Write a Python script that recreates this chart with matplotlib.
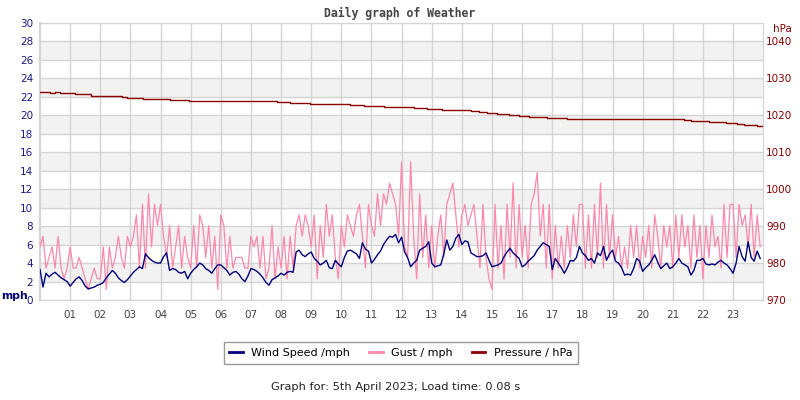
import numpy as np
import matplotlib
matplotlib.use("Agg")
import matplotlib.pyplot as plt

# Daily weather graph: wind speed, gust (mph) and pressure (hPa)

# samples every 6 minutes, 10 per hour, hour by hour
wind_mph = [
    3.3, 1.4, 2.9, 2.5, 2.8, 3.0, 2.7, 2.4, 2.2, 2.0,  # 00
    1.5, 1.9, 2.3, 2.5, 2.1, 1.5, 1.2, 1.3, 1.4, 1.6,  # 01
    1.7, 1.9, 2.4, 2.8, 3.2, 2.9, 2.4, 2.1, 1.9, 2.2,  # 02
    2.6, 3.0, 3.3, 3.6, 3.4, 5.0, 4.6, 4.3, 4.1, 4.0,  # 03
    4.0, 4.7, 5.1, 3.2, 3.4, 3.3, 3.0, 2.9, 3.1, 2.3,  # 04
    2.9, 3.3, 3.6, 4.0, 3.8, 3.4, 3.2, 2.9, 3.4, 3.8,  # 05
    3.8, 3.5, 3.2, 2.7, 3.0, 3.1, 2.8, 2.3, 2.0, 2.6,  # 06
    3.4, 3.3, 3.1, 2.8, 2.4, 1.9, 1.6, 2.2, 2.4, 2.6,  # 07
    2.9, 2.7, 3.0, 3.1, 3.0, 5.2, 5.4, 4.9, 4.7, 5.0,  # 08
    5.2, 4.5, 4.2, 3.8, 4.0, 4.3, 3.5, 3.4, 4.3, 3.9,  # 09
    3.6, 4.6, 5.3, 5.4, 5.2, 5.0, 4.5, 6.2, 5.5, 5.3,  # 10
    4.0, 4.4, 4.9, 5.3, 6.0, 6.5, 6.9, 6.8, 7.1, 6.2,  # 11
    6.8, 5.2, 4.6, 3.6, 4.0, 4.3, 5.4, 5.6, 5.8, 6.3,  # 12
    4.0, 3.6, 3.7, 3.8, 5.0, 6.5, 5.4, 5.8, 6.7, 7.1,  # 13
    6.0, 6.4, 6.3, 5.1, 4.9, 4.7, 4.7, 4.8, 5.1, 4.3,  # 14
    3.6, 3.7, 3.8, 4.0, 4.7, 5.2, 5.6, 5.1, 4.8, 4.5,  # 15
    3.6, 3.8, 4.2, 4.5, 4.8, 5.4, 5.8, 6.2, 6.0, 5.8,  # 16
    3.3, 4.5, 4.0, 3.5, 2.9, 3.5, 4.3, 4.2, 4.6, 5.8,  # 17
    5.1, 4.8, 4.3, 4.5, 4.0, 5.1, 4.8, 5.8, 4.3, 5.0,  # 18
    5.4, 4.2, 4.0, 3.5, 2.7, 2.8, 2.7, 3.4, 4.5, 4.2,  # 19
    3.1, 3.5, 3.8, 4.3, 4.9, 4.1, 3.4, 3.7, 4.0, 3.4,  # 20
    3.6, 4.0, 4.5, 4.0, 3.8, 3.6, 2.7, 3.2, 4.3, 4.3,  # 21
    4.5, 3.9, 3.8, 3.9, 3.8, 4.1, 4.3, 4.0, 3.8, 3.4,  # 22
    2.9, 4.0, 5.8, 4.7, 4.2, 6.3, 4.6, 4.2, 5.3, 4.5,  # 23
]

# gust is logged in whole knots
gust_kt = [
    5, 6, 3, 4, 5, 3, 6, 3, 2, 3,  # 00
    5, 3, 3, 4, 3, 2, 1, 2, 3, 2,  # 01
    2, 5, 1, 5, 3, 4, 6, 4, 3, 6,  # 02
    5, 6, 8, 3, 9, 3, 10, 5, 9, 7,  # 03
    9, 6, 4, 7, 3, 5, 7, 3, 6, 4,  # 04
    3, 7, 3, 8, 7, 4, 7, 3, 6, 1,  # 05
    8, 7, 3, 6, 3, 4, 4, 4, 3, 3,  # 06
    6, 5, 6, 3, 6, 2, 3, 7, 2, 5,  # 07
    3, 6, 2, 6, 3, 7, 8, 6, 8, 7,  # 08
    5, 8, 2, 7, 4, 9, 6, 8, 4, 2,  # 09
    7, 5, 8, 7, 6, 8, 9, 6, 3, 9,  # 10
    7, 6, 10, 7, 10, 9, 11, 10, 9, 6,  # 11
    13, 5, 4, 13, 6, 2, 10, 4, 8, 3,  # 12
    7, 3, 6, 8, 4, 9, 10, 11, 8, 5,  # 13
    8, 9, 7, 8, 9, 6, 3, 9, 4, 2,  # 14
    1, 9, 3, 7, 2, 9, 4, 11, 3, 9,  # 15
    4, 7, 3, 9, 10, 12, 6, 9, 3, 9,  # 16
    2, 7, 3, 6, 3, 7, 4, 8, 5, 9,  # 17
    9, 3, 8, 3, 9, 4, 11, 3, 9, 4,  # 18
    8, 4, 6, 3, 5, 3, 7, 4, 7, 3,  # 19
    6, 4, 7, 3, 8, 6, 3, 7, 5, 7,  # 20
    3, 8, 4, 8, 5, 7, 3, 8, 4, 7,  # 21
    2, 7, 4, 8, 5, 6, 3, 9, 4, 9,  # 22
    9, 4, 9, 7, 8, 5, 9, 4, 8, 5,  # 23
]
KT_TO_MPH = 1.1508

# pressure changes in small steps: hour of change and new value
pressure_hours = [0.0, 0.33, 0.5, 0.66, 1.16, 1.7, 2.27, 2.71, 2.88, 3.43,
                  3.82, 4.32, 4.93, 7.42, 7.86, 8.31, 8.97, 10.3, 10.74, 11.4,
                  12.4, 12.85, 13.35, 14.29, 14.56, 14.84, 15.17, 15.56, 15.89, 16.22,
                  16.83, 17.5, 21.37, 21.6, 22.2, 22.76, 23.14, 23.37, 23.81, 23.97]
pressure_hpa = [1026.25, 1026.0, 1026.25, 1026.0, 1025.7, 1025.3, 1025.1, 1024.9, 1024.6, 1024.4,
                1024.3, 1024.2, 1023.9, 1023.8, 1023.5, 1023.3, 1023.0, 1022.7, 1022.5, 1022.2,
                1021.9, 1021.7, 1021.4, 1021.1, 1020.8, 1020.6, 1020.3, 1020.0, 1019.8, 1019.5,
                1019.2, 1018.9, 1018.7, 1018.4, 1018.1, 1017.9, 1017.6, 1017.3, 1017.0, 1017.0]

hour_labels = ["%02d" % h for h in range(1, 24)]

t = np.arange(len(wind_mph)) / 10.0
gust_mph = np.array(gust_kt) * KT_TO_MPH

navy = "#00007f"
pink = "#ff88aa"
dark_red = "#8b0000"
grid_col = "#d4d4d4"

fig = plt.figure(figsize=(8, 4), dpi=100)
ax = fig.add_axes([0.05, 0.25, 0.904, 0.6925])
ax2 = ax.twinx()

# alternate grey bands
for y0 in range(2, 30, 4):
    ax.axhspan(y0, y0 + 2, color="#f2f2f2", zorder=0, lw=0)

ax.plot(t, gust_mph, color=pink, lw=0.9, zorder=3)
ax.plot(t, wind_mph, color=navy, lw=1.0, zorder=4)
ax2.plot(pressure_hours, pressure_hpa, color=dark_red, lw=1.0, drawstyle="steps-post")

ax.set_xlim(0, 24)
ax.set_ylim(0, 30)
ax2.set_ylim(970, 1045)

ax.set_xticks(range(1, 24))
ax.set_xticklabels(hour_labels)
ax.set_yticks(range(0, 31, 2))
ax2.set_yticks(range(970, 1041, 10))
ax.grid(True, color=grid_col, lw=1, zorder=1)
ax.set_axisbelow(True)

ax.tick_params(axis="x", length=0, pad=7, labelsize=7.5, labelcolor="#444444")
ax.tick_params(axis="y", length=0, pad=5, labelsize=7.5, labelcolor="#1a1a8a")
ax2.tick_params(axis="y", length=0, pad=2, labelsize=7.5, labelcolor=dark_red)

for s in ax.spines.values():
    s.set_color(grid_col)
ax.spines["left"].set_linewidth(1.6)
for s in ax2.spines.values():
    s.set_visible(False)

fig.text(0.5, 1 - 13 / 400, "Daily graph of Weather", family="DejaVu Sans Mono",
         weight="bold", size=8.3, color="#444444", ha="center", va="center")
fig.text(782 / 800, 1 - 29 / 400, "hPa", size=7.5, color=dark_red, ha="center", va="center")
fig.text(14 / 800, 1 - 296 / 400, "mph", size=7.8, weight="bold", color=navy,
         ha="center", va="center")

handles = [plt.Line2D([], [], color=c, lw=2) for c in (navy, pink, dark_red)]
leg = fig.legend(handles, ["Wind Speed /mph", "Gust / mph", "Pressure / hPa"],
                 loc="center", bbox_to_anchor=(401 / 800, 1 - 353 / 400), ncol=3,
                 fontsize=8.0, frameon=True, fancybox=False, handlelength=1.2,
                 columnspacing=1.7, borderpad=0.5)
leg.get_frame().set_edgecolor("#808080")
leg.get_frame().set_linewidth(1)

fig.text(0.495, 1 - 387 / 400, "Graph for: 5th April 2023; Load time: 0.08 s",
         size=8.2, color="#222222", ha="center", va="center")

fig.savefig("out.png", dpi=100)
